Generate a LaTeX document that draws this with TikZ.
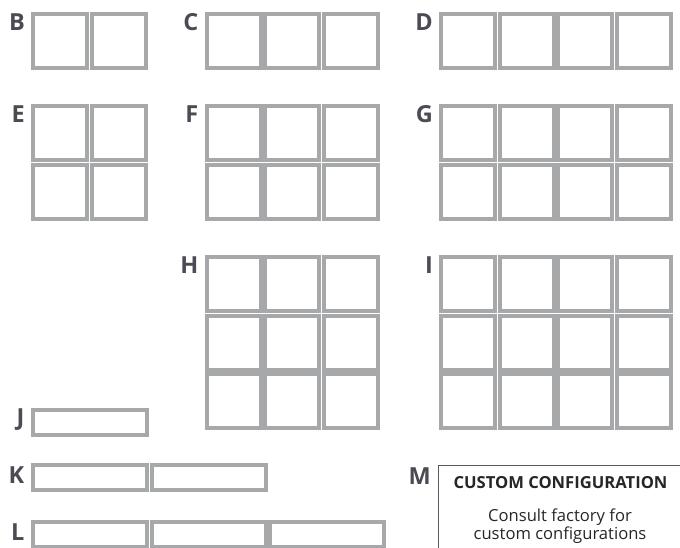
\documentclass[tikz,border=0pt]{standalone}
\usepackage{fontspec}
\setmainfont{Open Sans}
\usepackage{xcolor}
\usepackage{tikz}
\usetikzlibrary{positioning}
\definecolor{cgray}{HTML}{A7A8AA}
\definecolor{ctag}{HTML}{4B4B53}
\definecolor{cframe}{HTML}{5A5A5E}

\begin{document}
\begin{tikzpicture}[x=1pt, y=-1pt,
  cell/.style={draw=cgray, line width=3.9pt, fill=white, inner sep=0pt,
    minimum width=54pt, minimum height=54pt},
  barcell/.style={cell, minimum width=114pt, minimum height=24.5pt},
  tag/.style={font=\fontsize{23.5}{26}\selectfont\bfseries, text=ctag, inner sep=0pt}]
\clip (0,0) rectangle (680,548);
\useasboundingbox (0,0) rectangle (680,548);
% square grids: name / left / top / columns / rows
\foreach \g/\gx/\gy/\nc/\nr in {B/31/12/2/1, C/204.5/12/3/1, D/439/12/4/1,
    E/31/104/2/2, F/204.5/104/3/2, G/439/104/4/2,
    H/204.5/255/3/3, I/439/255/4/3}{
  \foreach \c in {1,...,\nc}
    \foreach \r in {1,...,\nr}
      \node[cell] (\g-\r-\c) at ({\gx+(\c-0.5)*58.5},{\gy+(\r-0.5)*58.5}) {};
  \node[tag, anchor=north east] (tag-\g) at (\gx-6,\gy+1.5) {\g};
}
% strip rows
\foreach \b/\by/\n in {J/408/1, K/463/2, L/520/3}{
  \foreach \c in {1,...,\n}
    \node[barcell] (\b-\c) at ({31+(\c-0.5)*118.4},\by+14.5) {};
  \node[tag, anchor=east] (tag-\b) at (24.5,\by+12) {\b};
}
% custom box
\node[draw=cframe, line width=0.9pt, anchor=north west, inner sep=0pt,
  minimum width=260pt, minimum height=100pt] (M-box) at (438,465) {};
\node[tag, anchor=north east] (tag-M) at (431,467.5) {M};
\node[font=\fontsize{16.6}{19}\selectfont\bfseries, text=black!85] (M-title)
  at (560.5,483) {CUSTOM CONFIGURATION};
\node[font=\fontsize{16.6}{18}\selectfont, text=black!85, align=center] (M-text)
  at (560,526) {Consult factory for\\custom configurations};
\end{tikzpicture}
\end{document}
